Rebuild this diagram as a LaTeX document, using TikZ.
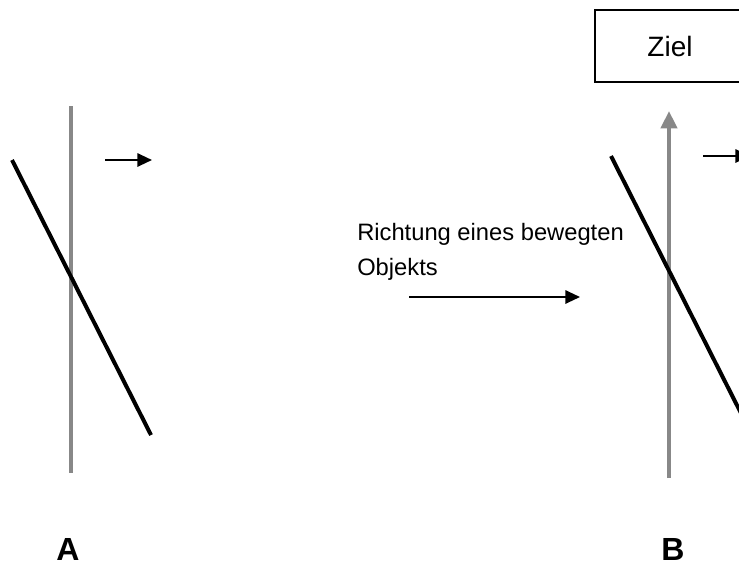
\documentclass[tikz,border=0pt]{standalone}
\usepackage{fontspec}
\setmainfont{Liberation Sans}
\usetikzlibrary{arrows.meta}
\definecolor{axisgray}{HTML}{888888}
\begin{document}
\begin{tikzpicture}[x=0.75pt,y=-0.75pt,
  axisline/.style={draw=axisgray,line width=3pt},
  slantline/.style={draw=black,line width=3pt},
  moveto/.style={draw=black,line width=1.5pt,-{Triangle[length=11pt,width=10pt]}},
  goalbox/.style={draw=black,line width=1.1pt,minimum width=150*0.75pt,minimum height=72*0.75pt,inner sep=0pt,font=\fontsize{21}{24}\selectfont},
  caption/.style={font=\bfseries\fontsize{24}{26}\selectfont,inner sep=0pt},
  note/.style={font=\fontsize{17.8}{26}\selectfont,align=left,inner sep=0pt,anchor=north west}]
\useasboundingbox (0,0) rectangle (739,565);
\clip (0,0) rectangle (739,565);

% panel A
\coordinate (a1) at (71,106);
\coordinate (a2) at (71,473);
\coordinate (d1) at (12,160);
\coordinate (d2) at (151,435);
\coordinate (m1) at (105,160);
\coordinate (m2) at (152,160);
\draw[axisline] (a1) -- (a2);
\draw[slantline] (d1) -- (d2);
\draw[moveto] (m1) -- (m2);
\node[caption] (labA) at (68,549) {A};

% text and direction arrow
\node[note] (txt) at (357,223) {Richtung eines bewegten\\Objekts};
\coordinate (r1) at (409,297);
\coordinate (r2) at (580,297);
\draw[moveto] (r1) -- (r2);

% panel B
\node[goalbox] (goal) at (670,46) {Ziel};
\coordinate (b1) at (669,478);
\coordinate (b2) at (669,111);
\coordinate (e1) at (611,156);
\coordinate (e2) at (750,431);
\coordinate (n1) at (703,156);
\coordinate (n2) at (750,156);
\draw[axisline,-{Triangle[length=13pt,width=12pt]}] (b1) -- (b2);
\draw[slantline] (e1) -- (e2);
\draw[moveto] (n1) -- (n2);
\node[caption] (labB) at (673,549) {B};
\end{tikzpicture}
\end{document}
